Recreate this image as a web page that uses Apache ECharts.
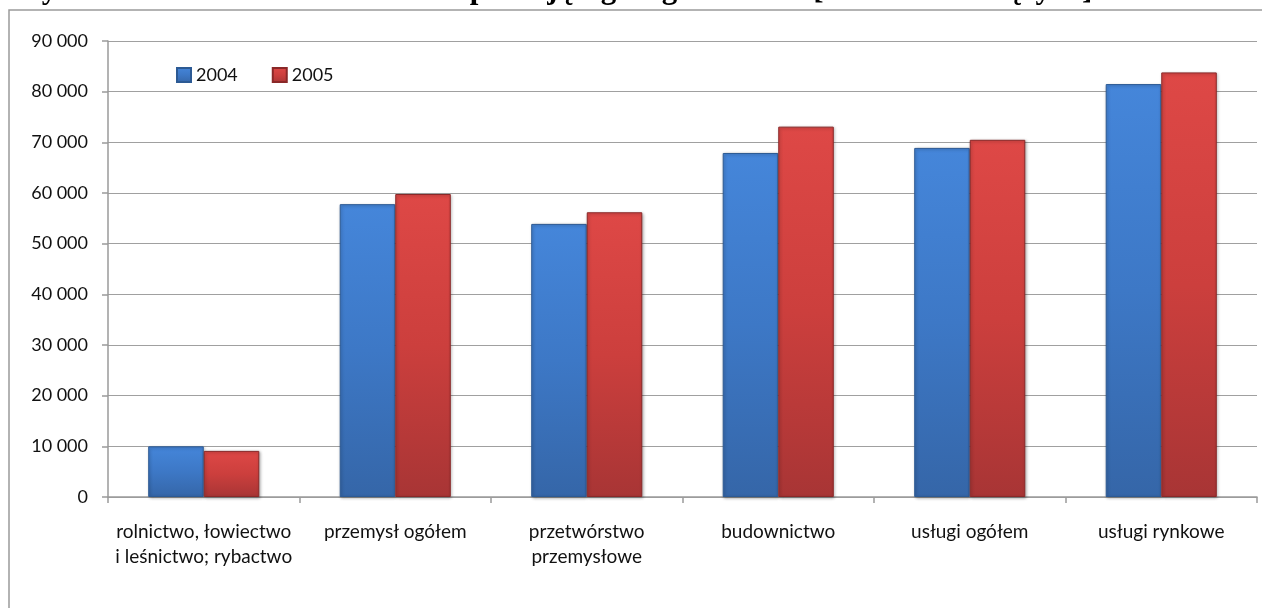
<!DOCTYPE html>
<html>
<head>
<meta charset="utf-8">
<script src="https://cdn.jsdelivr.net/npm/echarts@6/dist/echarts.min.js"></script>
<style>
html,body{margin:0;padding:0;background:#fff;}
#c{width:1262px;height:608px;}
</style>
</head>
<body>
<div id="c"></div>
<script>
const titleText = 'Wytworzona wartość dodana na 1 pracującego wg sektorów [w cenach bieżących]';
const categories = [
  'rolnictwo, łowiectwo\ni leśnictwo; rybactwo',
  'przemysł ogółem',
  'przetwórstwo\nprzemysłowe',
  'budownictwo',
  'usługi ogółem',
  'usługi rynkowe'
];
const seriesNames = ['2004', '2005'];
const values2004 = [10000, 57800, 53900, 67900, 68900, 81500];
const values2005 = [9100, 59800, 56200, 73100, 70500, 83800];
const yTicks = { min: 0, max: 90000, interval: 10000 };

const chart = echarts.init(document.getElementById('c'), null, { renderer: 'canvas' });

function fmt(v) {
  return String(v).replace(/\B(?=(\d{3})+(?!\d))/g, ' ');
}
function grad(top, mid, bottom) {
  return new echarts.graphic.LinearGradient(0, 0, 0, 1, [
    { offset: 0, color: top },
    { offset: 0.5, color: mid },
    { offset: 1, color: bottom }
  ]);
}
const font = 'Lato, "Open Sans", sans-serif';

chart.setOption({
  animation: false,
  backgroundColor: '#ffffff',
  graphic: [
    {
      type: 'rect',
      shape: { x: 9, y: 10, width: 1300, height: 700 },
      style: { fill: 'none', stroke: '#9a9a9a', lineWidth: 1.5 },
      silent: true
    },
    {
      type: 'text',
      left: 12,
      top: -26,
      style: {
        text: titleText,
        font: 'bold 31px "Liberation Serif", serif',
        fill: '#000'
      },
      silent: true
    }
  ],
  legend: {
    left: 171,
    top: 61,
    itemWidth: 14,
    itemHeight: 14,
    itemGap: 34,
    icon: 'rect',
    textStyle: { fontFamily: font, fontSize: 18, color: '#111' },
    data: seriesNames
  },
  grid: { left: 108, right: 5, top: 41, bottom: 111, containLabel: false },
  xAxis: {
    type: 'category',
    data: categories,
    axisLine: { lineStyle: { color: '#9a9a9a', width: 1.5 } },
    axisTick: { show: true, length: 6, lineStyle: { color: '#9a9a9a', width: 1.5 } },
    axisLabel: {
      interval: 0,
      margin: 22,
      fontFamily: font,
      fontSize: 19,
      lineHeight: 25,
      color: '#111'
    }
  },
  yAxis: {
    type: 'value',
    min: yTicks.min,
    max: yTicks.max,
    interval: yTicks.interval,
    axisLine: { show: true, lineStyle: { color: '#9a9a9a', width: 1.5 } },
    axisTick: { show: true, length: 6, lineStyle: { color: '#9a9a9a', width: 1.5 } },
    splitLine: { lineStyle: { color: '#a0a0a0', width: 1.2 } },
    axisLabel: {
      margin: 20,
      fontFamily: font,
      fontSize: 18,
      color: '#111',
      formatter: fmt
    }
  },
  series: [
    {
      name: seriesNames[0],
      type: 'bar',
      data: values2004,
      barGap: '0%',
      barCategoryGap: '42%',
      itemStyle: {
        color: grad('#4586da', '#3d78c6', '#3566a8'),
        borderColor: '#2c5a94',
        borderWidth: 1,
        shadowColor: 'rgba(0,0,0,0.3)',
        shadowBlur: 3,
        shadowOffsetX: 1,
        shadowOffsetY: 1
      }
    },
    {
      name: seriesNames[1],
      type: 'bar',
      data: values2005,
      itemStyle: {
        color: grad('#de4846', '#cc3f3d', '#a83535'),
        borderColor: '#8a2828',
        borderWidth: 1,
        shadowColor: 'rgba(0,0,0,0.3)',
        shadowBlur: 3,
        shadowOffsetX: 1,
        shadowOffsetY: 1
      }
    }
  ]
});
</script>
</body>
</html>
